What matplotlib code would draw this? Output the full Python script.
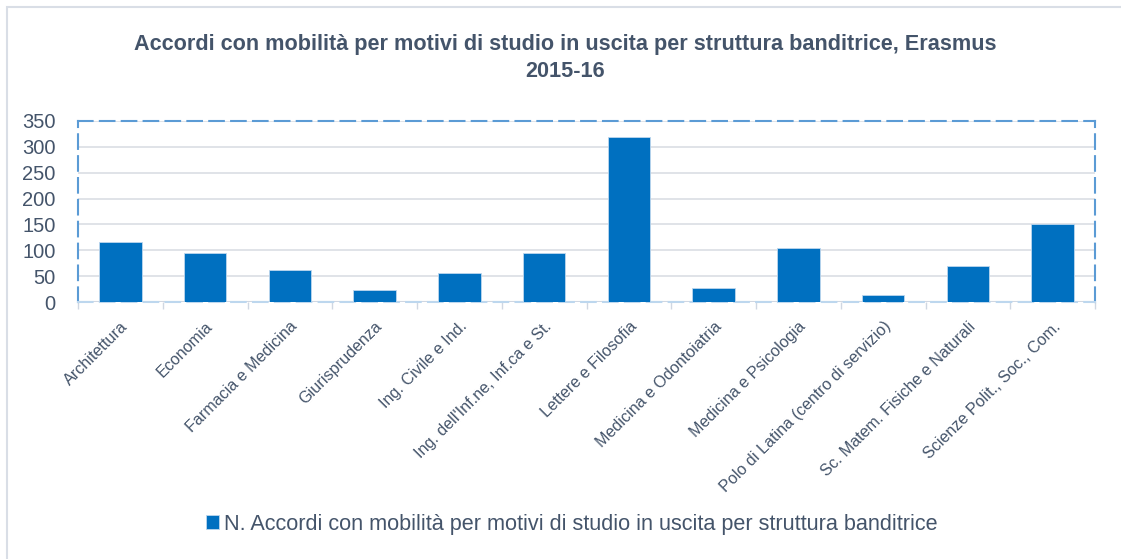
import matplotlib.pyplot as plt
from matplotlib.patches import Rectangle
import numpy as np

# ===== Dati =====
strutture = [
    "Architettura",
    "Economia",
    "Farmacia e Medicina",
    "Giurisprudenza",
    "Ing. Civile e Ind.",
    "Ing. dell'Inf.ne, Inf.ca e St.",
    "Lettere e Filosofia",
    "Medicina e Odontoiatria",
    "Medicina e Psicologia",
    "Polo di Latina (centro di servizio)",
    "Sc. Matem. Fisiche e Naturali",
    "Scienze Polit., Soc., Com.",
]
accordi = [116, 95, 62, 24, 56, 95, 319, 28, 104, 14, 70, 151]
y_ticks = [0, 50, 100, 150, 200, 250, 300, 350]

titolo = "Accordi con mobilità per motivi di studio in uscita per struttura banditrice, Erasmus\n2015-16"
legenda = "N. Accordi con mobilità per motivi di studio in uscita per struttura banditrice"

testo = "#44546A"
blu = "#0070C0"

plt.rcParams['font.family'] = ['Liberation Sans', 'DejaVu Sans']

fig = plt.figure(figsize=(11.21, 5.59), dpi=100)

# cornice esterna
fig.patches.append(Rectangle((7 / 1121, -0.1), 1.2, (559 - 7) / 559 + 0.1,
                             transform=fig.transFigure, fill=False,
                             edgecolor="#D9DEE6", linewidth=1.5))

ax = fig.add_axes([78 / 1121, (559 - 302) / 559, (1095 - 78) / 1121, (302 - 121) / 559])

x = np.arange(len(strutture))
ax.bar(x, accordi, width=0.5, color=blu, edgecolor="#BDD7EE", linewidth=0.6,
       label=legenda, zorder=3)

ax.set_xlim(-0.5, len(strutture) - 0.5)
ax.set_ylim(0, 350)
ax.set_yticks(y_ticks)
ax.tick_params(axis='y', length=0, labelsize=14.5, labelcolor=testo, pad=16)

ax.set_xticks(x)
ax.set_xticklabels(strutture, rotation=45, ha='right', rotation_mode='anchor',
                   fontsize=11.6, color=testo)
ax.tick_params(axis='x', which='major', length=0, pad=12)
ax.set_xticks(np.arange(-0.5, len(strutture)), minor=True)
ax.tick_params(axis='x', which='minor', length=5, color="#D0D7E2", width=1)

ax.grid(axis='y', color="#DDE1E6", linewidth=1.3, zorder=0)
ax.axhline(0, color="#D0D7E2", linewidth=1.5, zorder=2)

for side in ['top', 'left', 'right']:
    ax.spines[side].set_color("#5B9BD5")
    ax.spines[side].set_linewidth(1.5)
    ax.spines[side].set_linestyle((0, (7, 3.5)))
ax.spines['bottom'].set_color("#BDD7EE")
ax.spines['bottom'].set_linewidth(1.5)
ax.spines['bottom'].set_linestyle((0, (7, 3.5)))

fig.text(0.504, 0.94, titolo, ha='center', va='top', fontsize=15.6,
         fontweight='bold', color=testo, linespacing=1.4)

fig.legend(loc='center', bbox_to_anchor=(0.51, 0.062), frameon=False,
           fontsize=15.6, labelcolor=testo, handlelength=0.6, handleheight=0.6,
           handletextpad=0.2)

fig.savefig("out.png", dpi=100)
